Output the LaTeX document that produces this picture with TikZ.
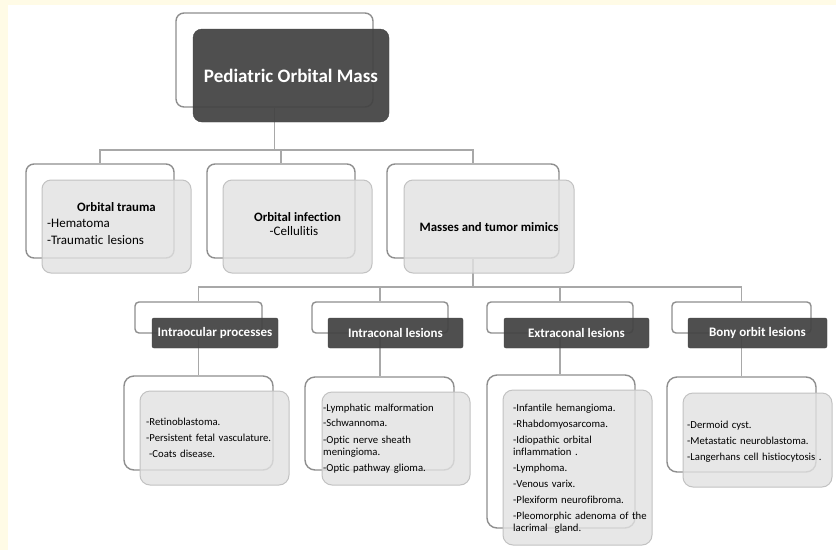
\documentclass[tikz,border=0pt]{standalone}
\usepackage{fontspec}
\setmainfont[Ligatures=NoCommon]{Carlito}
\pgfdeclarelayer{bg}
\pgfsetlayers{bg,main}
\definecolor{cream}{HTML}{FFFBE6}
\definecolor{olc}{HTML}{8E8E8E}
\definecolor{conc}{HTML}{A8A8A8}
\definecolor{darkf}{HTML}{424242}
\definecolor{lightf}{HTML}{E2E2E2}
\definecolor{lightb}{HTML}{C2C2C2}
\begin{document}
\begin{tikzpicture}[x=1pt,y=-1pt,
  obox/.style={draw=olc, line width=1.4pt, fill=white, rounded corners=8pt, inner sep=0pt},
  darkbox/.style={fill=darkf, fill opacity=0.93, draw=darkf, text=white, text opacity=1, inner sep=0pt},
  lightbox/.style={fill=lightf, fill opacity=0.82, draw=lightb, line width=1pt, rounded corners=9pt, inner sep=0pt},
  conn/.style={draw=conc, line width=1.3pt},
  hfont/.style={font=\fontsize{13}{15}\selectfont\bfseries},
  titletext/.style={inner sep=0pt, font=\fontsize{12.8}{15}\selectfont\bfseries},
  midtext/.style={inner sep=0pt, anchor=base west, text width=140pt, align=left, font=\fontsize{13}{17}\selectfont},
  body/.style={inner sep=0pt, anchor=base west, text width=145pt, align=left, font=\fontsize{10.7}{12}\selectfont}
]
\useasboundingbox (0,0) rectangle (836,550);
\begin{pgfonlayer}{bg}
\fill[cream] (0,0) rectangle (836,550);
\fill[white] (8,5) rectangle (836,550);
\end{pgfonlayer}

% root
\node[obox, minimum width=197pt, minimum height=94pt] (rootO) at (274.5,60) {};
\node[darkbox, rounded corners=9pt, minimum width=196pt, minimum height=93pt,
      font=\fontsize{19}{22}\selectfont\bfseries] (rootD) at (291,75.5) {Pediatric Orbital Mass};

% level 2
\node[obox, minimum width=148pt, minimum height=94pt] (traumaO) at (100,211) {};
\node[lightbox, minimum width=149pt, minimum height=93pt] (traumaF) at (116.5,226.5) {};
\node[titletext] (traumaT) at (116.5,207) {Orbital trauma};
\node[midtext] (traumaL) at (47,227) {-Hematoma\\-Traumatic lesions};

\node[obox, minimum width=148pt, minimum height=94pt] (infO) at (281,211) {};
\node[lightbox, minimum width=149pt, minimum height=93pt] (infF) at (297.5,226.5) {};
\node[titletext] (infT) at (297.5,217) {Orbital infection};
\node[inner sep=0pt, font=\fontsize{13}{15}\selectfont] (infL) at (294,231) {-Cellulitis};

\node[obox, minimum width=172pt, minimum height=94pt] (massO) at (473,211) {};
\node[lightbox, minimum width=170pt, minimum height=93pt] (massF) at (489,226.5) {};
\node[titletext] (massT) at (489,227) {Masses and tumor mimics};

% level 3 headers
\node[obox, rounded corners=4pt, minimum width=127pt, minimum height=31pt] (hAO) at (198.5,317.5) {};
\node[darkbox, rounded corners=2pt, minimum width=126pt, minimum height=30pt, hfont] (hAD) at (215,333) {Intraocular processes};
\node[obox, rounded corners=4pt, minimum width=136pt, minimum height=31pt] (hBO) at (380,317.5) {};
\node[darkbox, rounded corners=2pt, minimum width=135pt, minimum height=30pt, hfont] (hBD) at (395.5,333) {Intraconal lesions};
\node[obox, rounded corners=4pt, minimum width=146pt, minimum height=31pt] (hCO) at (560,317.5) {};
\node[darkbox, rounded corners=2pt, minimum width=145pt, minimum height=30pt, hfont] (hCD) at (576.5,333) {Extraconal lesions};
\node[obox, rounded corners=4pt, minimum width=139pt, minimum height=31pt] (hDO) at (741.5,317.5) {};
\node[darkbox, rounded corners=2pt, minimum width=139pt, minimum height=30pt, hfont] (hDD) at (757.5,333) {Bony orbit lesions};

% level 4 contents
\node[obox, rounded corners=10pt, minimum width=149pt, minimum height=94pt] (cAO) at (198.5,423) {};
\node[lightbox, rounded corners=10pt, minimum width=149pt, minimum height=94pt] (cAF) at (214.5,438) {};
\node[body] (cAT) at (146,425) {-Retinoblastoma.\\[4pt]-Persistent fetal vasculature.\\[4pt]\hspace*{3pt}-Coats disease.};

\node[obox, rounded corners=10pt, minimum width=149pt, minimum height=93pt] (cBO) at (379.5,423.5) {};
\node[lightbox, rounded corners=10pt, minimum width=148pt, minimum height=93pt] (cBF) at (396,438.5) {};
\node[body] (cBT) at (323,411) {-Lymphatic malformation\\[3pt]-Schwannoma.\\[5pt]-Optic nerve sheath\\meningioma.\\[4pt]-Optic pathway glioma.};

\node[obox, rounded corners=10pt, minimum width=148pt, minimum height=153pt] (cCO) at (561,451.5) {};
\node[lightbox, rounded corners=10pt, minimum width=149pt, minimum height=155pt] (cCF) at (577.5,467.5) {};
\node[body] (cCT) at (513,411) {-Infantile hemangioma.\\[4pt]-Rhabdomyosarcoma.\\[4pt]-Idiopathic orbital\\inflammation .\\[4pt]-Lymphoma.\\[4pt]-Venous varix.\\[4pt]-Plexiform neurofibroma.\\[4pt]-Pleomorphic adenoma of the\\lacrimal\ \ gland.};

\node[obox, rounded corners=10pt, minimum width=149pt, minimum height=95pt] (cDO) at (741.5,424.5) {};
\node[lightbox, rounded corners=10pt, minimum width=149pt, minimum height=94pt] (cDF) at (757.5,440) {};
\node[body] (cDT) at (687,428) {-Dermoid cyst.\\[4pt]-Metastatic neuroblastoma.\\[4pt]-Langerhans cell histiocytosis .};

% connectors
\begin{pgfonlayer}{bg}
\coordinate (bus1) at (274.5,150);
\draw[conn] (rootO.south) -- (bus1) -| (traumaO.north);
\draw[conn] (bus1) -| (infO.north);
\draw[conn] (bus1) -| (massO.north);
\coordinate (bus2) at (473,287);
\draw[conn] (massO.south) -- (bus2) -| (hAO.north);
\draw[conn] (bus2) -| (hBO.north);
\draw[conn] (bus2) -| (hCO.north);
\draw[conn] (bus2) -| (hDO.north);
\draw[conn] (hAO.south) -- (hAO.south |- cAO.north);
\draw[conn] (hBO.south) -- (hBO.south |- cBO.north);
\draw[conn] (hCO.south) -- (hCO.south |- cCO.north);
\draw[conn] (hDO.south) -- (hDO.south |- cDO.north);
\end{pgfonlayer}
\end{tikzpicture}
\end{document}
